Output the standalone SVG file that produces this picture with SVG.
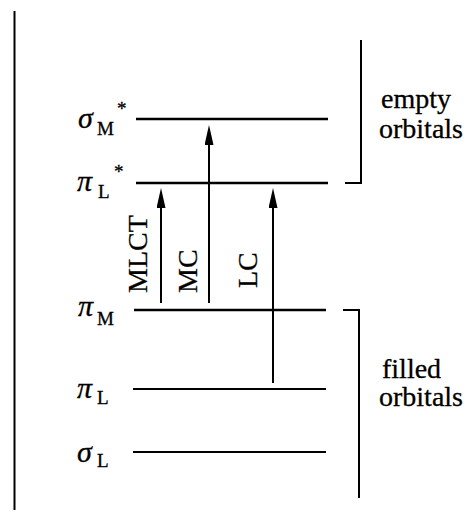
<svg xmlns="http://www.w3.org/2000/svg" width="473" height="512" viewBox="0 0 473 512" font-family="'Liberation Serif', 'DejaVu Serif', serif">
  <style>
    .ln { stroke: #000; stroke-width: 2; fill: none; }
    .lvl { stroke: #000; stroke-width: 2.5; fill: none; }
    text { font-family: "Liberation Serif", "DejaVu Serif", serif; fill: #000; stroke: #000; stroke-width: 0.3; }
    .gk { font-style: italic; font-size: 30px; }
    .sub { font-size: 19px; }
    .lab { font-size: 28px; }
  </style>
  <defs>
    <marker id="ah" viewBox="0 0 20 9" refX="10" refY="4.5" markerWidth="20" markerHeight="9" markerUnits="userSpaceOnUse" orient="auto">
      <path d="M0,0 L20,4.5 L0,9 z" fill="#000"/>
    </marker>
  </defs>
  <rect width="473" height="512" fill="#fff"/>

  <g id="axis">
    <line class="ln" x1="14.5" y1="11" x2="14.5" y2="510"/>
  </g>

  <g id="level-sigmaMstar">
    <line class="lvl" x1="136" y1="119" x2="328" y2="119"/>
    <text class="gk" x="78" y="128">σ</text>
    <text class="sub" x="97" y="135">M</text>
    <text class="sub" x="117" y="115">*</text>
  </g>
  <g id="level-piLstar">
    <line class="lvl" x1="136" y1="183" x2="328" y2="183"/>
    <text class="gk" x="77" y="191">π</text>
    <text class="sub" x="98" y="198">L</text>
    <text class="sub" x="114" y="178">*</text>
  </g>
  <g id="level-piM">
    <line class="lvl" x1="134" y1="310" x2="326" y2="310"/>
    <text class="gk" x="78" y="316">π</text>
    <text class="sub" x="97" y="325">M</text>
  </g>
  <g id="level-piL">
    <line class="ln" x1="133" y1="389" x2="326" y2="389"/>
    <text class="gk" x="77" y="398">π</text>
    <text class="sub" x="97" y="404">L</text>
  </g>
  <g id="level-sigmaL">
    <line class="ln" x1="133" y1="452" x2="326" y2="452"/>
    <text class="gk" x="77" y="462">σ</text>
    <text class="sub" x="97" y="467">L</text>
  </g>

  <g id="empty-orbitals">
    <path class="ln" d="M345,183 H361 V40"/>
    <text class="lab" x="381" y="108">empty</text>
    <text class="lab" x="379" y="138">orbitals</text>
  </g>
  <g id="filled-orbitals">
    <path class="ln" d="M343,310 H359 V498"/>
    <text class="lab" x="382" y="378">filled</text>
    <text class="lab" x="379" y="406">orbitals</text>
  </g>

  <g id="connectors">
    <line class="ln" x1="161" y1="303" x2="161" y2="198" marker-end="url(#ah)"/>
    <line class="ln" x1="209" y1="303" x2="209" y2="135" marker-end="url(#ah)"/>
    <line class="ln" x1="273" y1="383" x2="273" y2="198" marker-end="url(#ah)"/>
  </g>

  <g id="transition-labels">
    <text class="lab" transform="translate(147,293) rotate(-90)">MLCT</text>
    <text class="lab" transform="translate(197,293) rotate(-90)">MC</text>
    <text class="lab" transform="translate(257,288) rotate(-90)">LC</text>
  </g>
</svg>
